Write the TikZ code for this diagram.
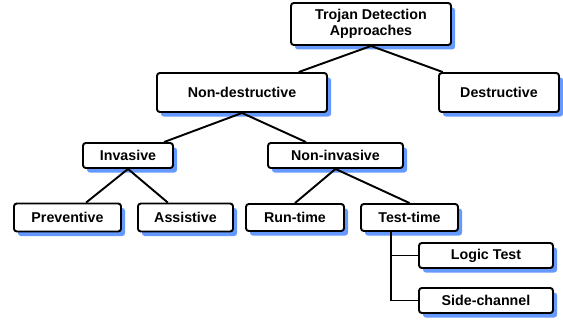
\documentclass[tikz,border=0pt]{standalone}
\usepackage{fontspec}
\setmainfont{Liberation Sans}
\usepackage{tikz}
\usetikzlibrary{shadows, calc}
\usepackage{xcolor}
\definecolor{azulsombra}{RGB}{102, 153, 255}

\begin{document}
\begin{tikzpicture}[
    every node/.style={font=\fontsize{8.1}{9.3}\selectfont\bfseries},
    caixa/.style={
        draw=black,
        fill=white,
        line width=1.1pt,
        rounded corners=1.6pt,
        align=center,
        inner sep=0pt,
        drop shadow={shadow xshift=0.08cm, shadow yshift=-0.09cm,
            fill=azulsombra, opacity=1}
    },
    ligacao/.style={draw=black, line width=1.1pt}
]

\useasboundingbox (0,0) rectangle (11.26,-6.44);

% ------------------------------------------------
% Raiz e primeiro nivel
% ------------------------------------------------

\node[
    caixa,
    minimum width=3.2cm,
    minimum height=0.84cm
] (raiz) at (7.42,-0.48)
{Trojan Detection\\Approaches};

\node[
    caixa,
    minimum width=3.4cm,
    minimum height=0.78cm
] (naodestrutivo) at (4.84,-1.85)
{Non-destructive};

\node[
    caixa,
    minimum width=2.4cm,
    minimum height=0.78cm
] (destrutivo) at (9.98,-1.85)
{Destructive};

% ------------------------------------------------
% Segundo nivel
% ------------------------------------------------

\node[
    caixa,
    minimum width=1.8cm,
    minimum height=0.5cm
] (invasivo) at (2.56,-3.11)
{Invasive};

\node[
    caixa,
    minimum width=2.7cm,
    minimum height=0.5cm
] (naoinvasivo) at (6.71,-3.11)
{Non-invasive};

% ------------------------------------------------
% Terceiro nivel
% ------------------------------------------------

\node[
    caixa,
    minimum width=2.14cm,
    minimum height=0.56cm
] (preventivo) at (1.35,-4.35)
{Preventive};

\node[
    caixa,
    minimum width=1.9cm,
    minimum height=0.56cm
] (assistivo) at (3.71,-4.35)
{Assistive};

\node[
    caixa,
    minimum width=1.96cm,
    minimum height=0.54cm
] (execucao) at (5.9,-4.35)
{Run-time};

\node[
    caixa,
    minimum width=1.94cm,
    minimum height=0.54cm
] (teste) at (8.19,-4.35)
{Test-time};

% ------------------------------------------------
% Quarto nivel
% ------------------------------------------------

\node[
    caixa,
    minimum width=2.68cm,
    minimum height=0.5cm
] (logica) at (9.72,-5.11)
{Logic Test};

\node[
    caixa,
    minimum width=2.68cm,
    minimum height=0.5cm
] (canal) at (9.72,-6.01)
{Side-channel};

% ------------------------------------------------
% Ligacoes
% ------------------------------------------------

\draw[ligacao] (raiz.south) -- (naodestrutivo);
\draw[ligacao] (raiz.south) -- (destrutivo);
\draw[ligacao] (naodestrutivo.south) -- (invasivo);
\draw[ligacao] (naodestrutivo.south) -- (naoinvasivo);
\draw[ligacao] (invasivo.south) -- (preventivo);
\draw[ligacao] (invasivo.south) -- (assistivo);
\draw[ligacao] (naoinvasivo.south) -- (execucao.north);
\draw[ligacao] (naoinvasivo.south) -- (teste.north);

\coordinate (tronco) at (7.82,-4.35);
\coordinate (topo) at (tronco |- teste.south);
\coordinate (base) at (tronco |- canal.west);
\draw[ligacao] (topo) -- (base) -- (canal.west);
\draw[ligacao] (tronco |- logica.west) -- (logica.west);

\end{tikzpicture}
\end{document}
